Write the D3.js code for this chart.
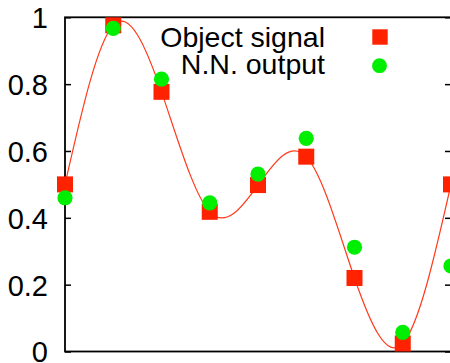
<!DOCTYPE html>
<html lang="en">
  <head>
    <meta charset="UTF-8" />
    <title>Object signal vs N.N. output</title>
    <script src="https://d3js.org/d3.v7.min.js"></script>
    <style>
      body { margin: 0; background: #fff; }
      svg { display: block; font-family: "Liberation Sans", Arial, sans-serif; }
    </style>
  </head>
  <body>
    <svg id="chart" width="450" height="363"></svg>

    <script>
      // Data
      const xs = [0, 1, 2, 3, 4, 5, 6, 7, 8];
      const objectSignal = [0.5, 0.976, 0.777, 0.418, 0.498, 0.583, 0.22, 0.024, 0.5];
      const nnOutput = [0.46, 0.967, 0.815, 0.445, 0.531, 0.638, 0.312, 0.057, 0.256];
      const yTicks = [0, 0.2, 0.4, 0.6, 0.8, 1];
      const yTickLabels = ["0", "0.2", "0.4", "0.6", "0.8", "1"];
      const seriesNames = ["Object signal", "N.N. output"];

      const margin = { top: 17.3, right: -1, bottom: 11.5, left: 65 },
        W = 450,
        H = 363,
        width = W - margin.left - margin.right,
        height = H - margin.top - margin.bottom;

      const svg = d3.select("#chart");
      const g = svg
        .append("g")
        .attr("transform", `translate(${margin.left},${margin.top})`);

      const x = d3.scaleLinear().domain([0, 8]).range([0, width]);
      const y = d3.scaleLinear().domain([0, 1]).range([height, 0]);

      const red = "#ff2200";
      const green = "#00ee00";

      // y axis, ticks pointing inward
      const yAxis = g
        .append("g")
        .call(
          d3
            .axisLeft(y)
            .tickValues(yTicks)
            .tickFormat((d, i) => yTickLabels[i])
            .tickSize(-6)
            .tickPadding(17)
        );
      yAxis.select(".domain").remove();
      yAxis.selectAll("line").attr("stroke", "#000").attr("stroke-width", 1.5);
      yAxis
        .selectAll("text")
        .attr("fill", "#000")
        .style("font-size", "29px")
        .attr("dy", "0.36em");

      const yAxisR = g
        .append("g")
        .attr("transform", `translate(${width},0)`)
        .call(d3.axisRight(y).tickValues(yTicks).tickFormat("").tickSize(-6));
      yAxisR.select(".domain").remove();
      yAxisR.selectAll("line").attr("stroke", "#000").attr("stroke-width", 1.5);

      // border
      g.append("rect")
        .attr("width", width)
        .attr("height", height)
        .attr("fill", "none")
        .attr("stroke", "#000")
        .attr("stroke-width", 1.8);

      // smooth curve through the object signal
      const line = d3
        .line()
        .x((d, i) => x(xs[i]))
        .y((d) => y(d))
        .curve(d3.curveNatural);

      g.append("path")
        .datum(objectSignal)
        .attr("d", line)
        .attr("fill", "none")
        .attr("stroke", "#ff3a1a")
        .attr("stroke-width", 1.2);

      // squares
      const sq = 16;
      g.selectAll(".sq")
        .data(objectSignal)
        .enter()
        .append("rect")
        .attr("class", "sq")
        .attr("x", (d, i) => x(xs[i]) - sq / 2)
        .attr("y", (d) => y(d) - sq / 2)
        .attr("width", sq)
        .attr("height", sq)
        .attr("fill", red);

      // circles
      g.selectAll(".dot")
        .data(nnOutput)
        .enter()
        .append("circle")
        .attr("class", "dot")
        .attr("cx", (d, i) => x(xs[i]))
        .attr("cy", (d) => y(d))
        .attr("r", 7.6)
        .attr("fill", green);

      // legend
      const legend = svg.append("g");
      legend
        .selectAll("text")
        .data(seriesNames)
        .enter()
        .append("text")
        .attr("x", 325)
        .attr("y", (d, i) => 47 + i * 27)
        .attr("text-anchor", "end")
        .style("font-size", "28.5px")
        .attr("fill", "#000")
        .text((d) => d);

      legend
        .append("rect")
        .attr("x", 380 - 7.7)
        .attr("y", 37 - 7.7)
        .attr("width", 15.4)
        .attr("height", 15.4)
        .attr("fill", red);

      legend
        .append("circle")
        .attr("cx", 379.5)
        .attr("cy", 65.7)
        .attr("r", 7.4)
        .attr("fill", green);
    </script>
  </body>
</html>
